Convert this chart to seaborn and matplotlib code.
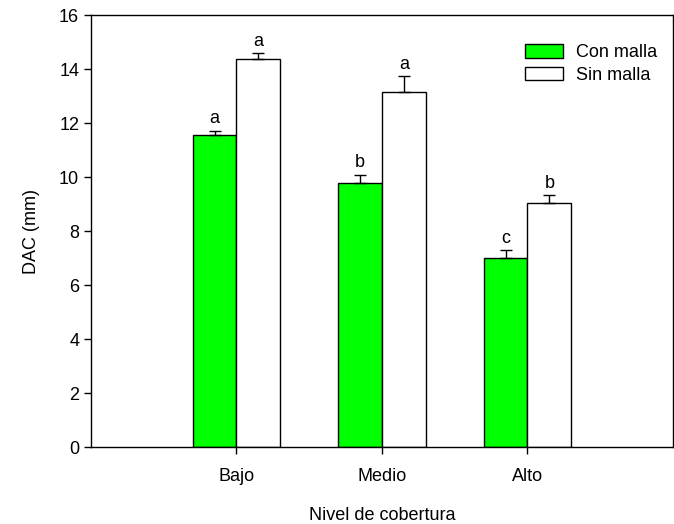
import pandas as pd
import matplotlib.pyplot as plt
import seaborn as sns

# data
niveles = ['Bajo', 'Medio', 'Alto']
con_malla = [11.57, 9.79, 7.00]
sin_malla = [14.37, 13.15, 9.04]
err_con = [0.15, 0.30, 0.28]
err_sin = [0.22, 0.60, 0.30]
letras_con = ['a', 'b', 'c']
letras_sin = ['a', 'a', 'b']

df = pd.DataFrame({
    'Nivel': niveles * 2,
    'DAC': con_malla + sin_malla,
    'Malla': ['Con malla'] * 3 + ['Sin malla'] * 3,
})

sns.set_style('ticks')
plt.rcParams['font.family'] = ['Liberation Sans', 'DejaVu Sans']
plt.rcParams['text.color'] = 'black'
plt.rcParams['axes.labelcolor'] = 'black'
plt.rcParams['xtick.color'] = 'black'
plt.rcParams['ytick.color'] = 'black'

fig = plt.figure(figsize=(6.74, 5.24), dpi=100)
ax = fig.add_axes([91 / 674, 77 / 524, 582 / 674, 432 / 524])

sns.barplot(data=df, x='Nivel', y='DAC', hue='Malla', order=niveles,
            palette=['#00ff00', 'white'], saturation=1, edgecolor='black',
            linewidth=1, width=0.6, errorbar=None, ax=ax)

# one-sided error bars + letters
for cont, errs, letras in zip(ax.containers, [err_con, err_sin], [letras_con, letras_sin]):
    xs = [p.get_x() + p.get_width() / 2 for p in cont]
    hs = [p.get_height() for p in cont]
    ax.errorbar(xs, hs, yerr=[[0] * len(errs), errs], fmt='none',
                ecolor='black', elinewidth=1, capsize=4.3, capthick=1)
    for x, h, e, l in zip(xs, hs, errs, letras):
        ax.text(x, h + e + 0.12, l, ha='center', va='bottom', fontsize=13)

ax.set_xlim(-1, 3)
ax.set_ylim(0, 16)
ax.set_yticks(range(0, 17, 2))
ax.set_xlabel('Nivel de cobertura', fontsize=13, labelpad=16)
ax.set_ylabel('DAC (mm)', fontsize=13, labelpad=14)
ax.tick_params(axis='both', labelsize=13, direction='out', length=5, width=1)
ax.tick_params(axis='x', pad=10)
for s in ax.spines.values():
    s.set_color('black')
    s.set_linewidth(1)

h, l = ax.get_legend_handles_labels()
ax.legend(h, l, loc='upper right', bbox_to_anchor=(1.0, 0.97), frameon=False,
          fontsize=13, handlelength=2.1, handleheight=0.75, labelspacing=0.3,
          handletextpad=0.7)

fig.savefig('out.png', dpi=100)
